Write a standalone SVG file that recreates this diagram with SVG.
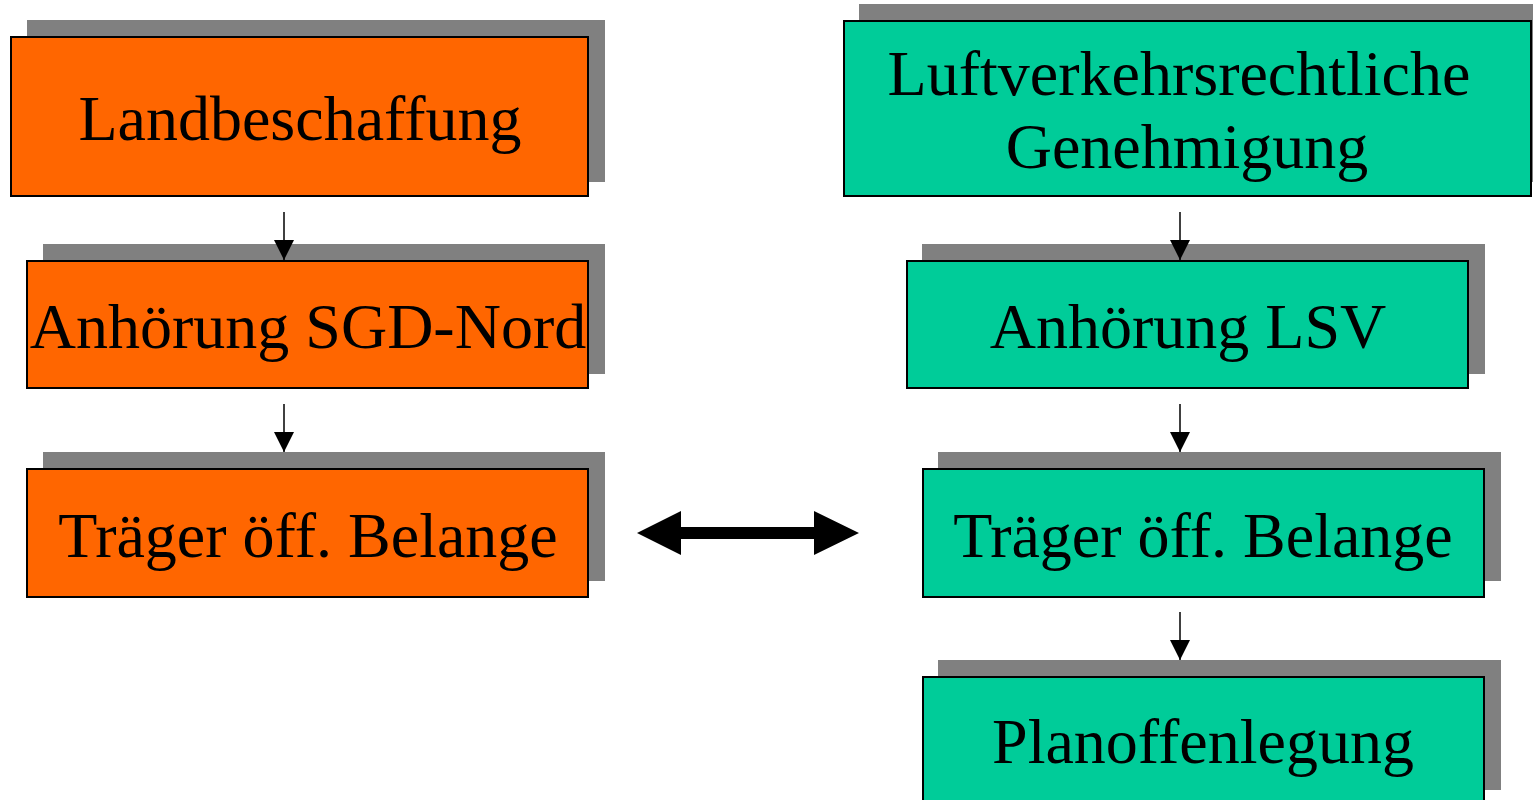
<svg xmlns="http://www.w3.org/2000/svg" width="1533" height="800" viewBox="0 0 1533 800">
<style>
.sh{fill:#808080}
.or{fill:#FF6600;stroke:#000;stroke-width:2}
.tl{fill:#00CC99;stroke:#000;stroke-width:2}
text{font-family:"Liberation Serif","Times New Roman",serif;font-size:64px;fill:#000;text-anchor:middle}
.ln{stroke:#000;stroke-width:1.5;fill:none}
</style>
<defs>
<marker id="ah" markerUnits="userSpaceOnUse" markerWidth="20" markerHeight="20" refX="20" refY="10" orient="auto">
<path d="M0,0 L20,10 L0,20 Z" fill="#000"/>
</marker>
</defs>
<rect width="1533" height="800" fill="#fff"/>
<g id="n-landbeschaffung">
<rect class="sh" x="27" y="20" width="578" height="162"/>
<rect class="or" x="11" y="37" width="577" height="159"/>
<text x="300" y="140">Landbeschaffung</text>
</g>
<g id="n-anhoerung-sgd">
<rect class="sh" x="43" y="244" width="562" height="130"/>
<rect class="or" x="27" y="261" width="561" height="127"/>
<text x="308" y="348">Anhörung SGD-Nord</text>
</g>
<g id="n-traeger-left">
<rect class="sh" x="43" y="452" width="562" height="129"/>
<rect class="or" x="27" y="469" width="561" height="128"/>
<text x="308" y="557">Träger öff. Belange</text>
</g>
<g id="n-luftverkehr">
<rect class="sh" x="859" y="4" width="676" height="178"/>
<rect class="tl" x="844" y="21" width="687" height="175"/>
<text x="1179" y="95">Luftverkehrsrechtliche</text>
<text x="1187" y="168">Genehmigung</text>
</g>
<g id="n-anhoerung-lsv">
<rect class="sh" x="922" y="244" width="563" height="130"/>
<rect class="tl" x="907" y="261" width="561" height="127"/>
<text x="1188" y="348">Anhörung LSV</text>
</g>
<g id="n-traeger-right">
<rect class="sh" x="938" y="452" width="563" height="129"/>
<rect class="tl" x="923" y="469" width="561" height="128"/>
<text x="1203" y="557">Träger öff. Belange</text>
</g>
<g id="n-planoffenlegung">
<rect class="sh" x="938" y="660" width="563" height="130"/>
<rect class="tl" x="923" y="677" width="561" height="130"/>
<text x="1203" y="763">Planoffenlegung</text>
</g>
<g id="connectors">
<line class="ln" x1="284" y1="212" x2="284" y2="260" marker-end="url(#ah)"/>
<line class="ln" x1="284" y1="404" x2="284" y2="452" marker-end="url(#ah)"/>
<line class="ln" x1="1180" y1="212" x2="1180" y2="260" marker-end="url(#ah)"/>
<line class="ln" x1="1180" y1="404" x2="1180" y2="452" marker-end="url(#ah)"/>
<line class="ln" x1="1180" y1="612" x2="1180" y2="660" marker-end="url(#ah)"/>
<path d="M637,533 L681,511 L681,527 L814,527 L814,511 L859,533 L814,555 L814,539 L681,539 L681,555 Z" fill="#000"/>
</g>
</svg>
